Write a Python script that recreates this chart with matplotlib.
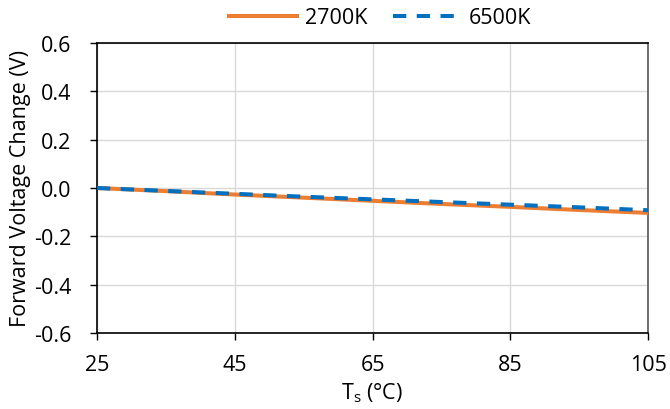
import numpy as np
import matplotlib
matplotlib.use("Agg")
import matplotlib.pyplot as plt

plt.rcParams["font.family"] = ["Open Sans", "DejaVu Sans"]
plt.rcParams["font.size"] = 15.5

# solder point temperature (°C)
temp = [25, 35, 45, 55, 65, 75, 85, 95, 105]
# forward voltage change (V)
dv_2700 = [0.000, -0.013, -0.027, -0.040, -0.053, -0.066, -0.078, -0.091, -0.103]
dv_6500 = [0.000, -0.012, -0.024, -0.036, -0.047, -0.058, -0.069, -0.080, -0.092]

x_ticks = [25, 45, 65, 85, 105]
y_ticks = [-0.6, -0.4, -0.2, 0.0, 0.2, 0.4, 0.6]

fig = plt.figure(figsize=(6.7, 4.1), dpi=100)
ax = fig.add_axes([97 / 670, 1 - 334 / 410, (648 - 97) / 670, (334 - 44) / 410])

ax.plot(temp, dv_2700, color="#ED7D31", lw=2.9, label="2700K", zorder=3)
ax.plot(temp, dv_6500, color="#0070C0", lw=2.9, ls=(0, (3.3, 2.6)), label="6500K", zorder=4)

ax.set_xlim(25, 105)
ax.set_ylim(-0.6, 0.6)
ax.set_xticks(x_ticks)
ax.set_yticks(y_ticks)
ax.set_yticklabels([f"{v:.1f}" for v in y_ticks])
ax.grid(True, color="#D9D9D9", lw=1)
ax.set_axisbelow(True)
for s in ax.spines.values():
    s.set_color("black")
    s.set_linewidth(1.2)
ax.spines["right"].set_color("#555555")
ax.tick_params(direction="out", length=5.2, width=1)
ax.tick_params(axis="x", pad=10)
ax.tick_params(axis="y", pad=13.5)

ax.set_xlabel("T$_\\mathregular{s}$ (°C)", labelpad=4)
ax.set_ylabel("Forward Voltage Change (V)", labelpad=2)

ax.legend(loc="center", bbox_to_anchor=(380 / 670, 1 - 19 / 410), bbox_transform=fig.transFigure,
          ncol=2, frameon=False,
          handlelength=3.2, columnspacing=1.2, handletextpad=0.33)

fig.savefig("out.png", dpi=100)
